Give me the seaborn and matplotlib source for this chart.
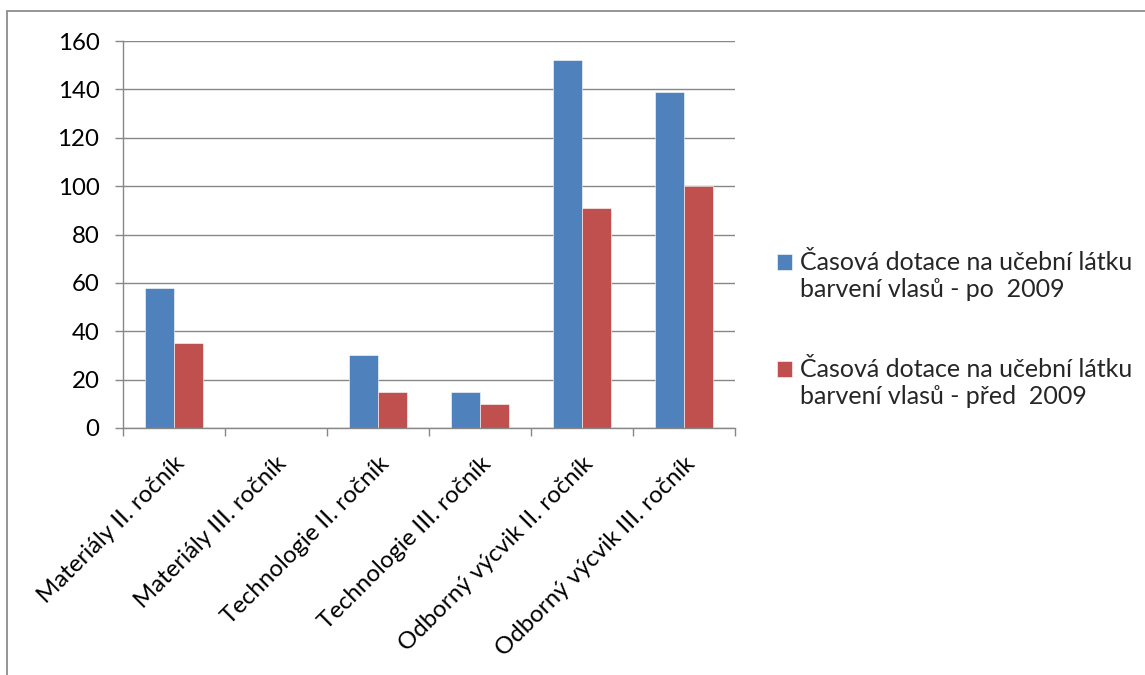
import matplotlib
matplotlib.use("Agg")
import matplotlib.pyplot as plt
import seaborn as sns
import pandas as pd
from matplotlib.patches import Rectangle
from matplotlib.legend_handler import HandlerPatch
from matplotlib.ticker import FixedLocator, MultipleLocator

categories = [
    "Materiály II. ročník",
    "Materiály III. ročník",
    "Technologie II. ročník",
    "Technologie III. ročník",
    "Odborný výcvik II. ročník",
    "Odborný výcvik III. ročník",
]
series_names = [
    "Časová dotace na učební látku\nbarvení vlasů - po  2009",
    "Časová dotace na učební látku\nbarvení vlasů - před  2009",
]
values_po = [58, 0, 30, 15, 152, 139]
values_pred = [35, 0, 15, 10, 91, 100]
colors = ["#4F81BD", "#C0504D"]

df = pd.DataFrame({
    "kategorie": categories * 2,
    "serie": [series_names[0]] * len(categories) + [series_names[1]] * len(categories),
    "hodnota": values_po + values_pred,
})

sns.set_theme(style="white")
plt.rcParams["font.family"] = ["Lato", "DejaVu Sans"]

TICK_FS = 17.3
LEG_FS = 18

W, H = 1145, 675
fig = plt.figure(figsize=(W / 100, H / 100), dpi=100)
ax = fig.add_axes([123 / W, 1 - 428 / H, (735 - 123) / W, (428 - 41) / H])

sns.barplot(data=df, x="kategorie", y="hodnota", hue="serie", order=categories,
            hue_order=series_names, palette=colors, width=0.57, saturation=1,
            edgecolor="white", linewidth=0.4, ax=ax, legend=True)

ax.set_xlim(-0.5, len(categories) - 0.5)
ax.set_ylim(0, 160)
ax.yaxis.set_major_locator(MultipleLocator(20))
ax.set_xlabel("")
ax.set_ylabel("")

grid_c = "#878787"
ax.grid(axis="y", color=grid_c, linewidth=1.0)
ax.set_axisbelow(True)
for s in ["top", "right"]:
    ax.spines[s].set_visible(False)
for s in ["left", "bottom"]:
    ax.spines[s].set_color(grid_c)
    ax.spines[s].set_linewidth(1.0)

ax.tick_params(axis="y", which="major", left=True, length=6, width=1.0, color=grid_c,
               pad=11, labelsize=TICK_FS, labelcolor="black")
ax.xaxis.set_minor_locator(FixedLocator([i - 0.5 for i in range(len(categories) + 1)]))
ax.tick_params(axis="x", which="minor", bottom=True, length=6, width=1.0, color=grid_c)
ax.tick_params(axis="x", which="major", bottom=False, length=0, pad=18,
               labelsize=TICK_FS, labelcolor="black")
for lbl in ax.get_xticklabels():
    lbl.set_rotation(45)
    lbl.set_ha("right")
    lbl.set_va("top")
    lbl.set_rotation_mode("anchor")


def top_square(legend, orig_handle, xdescent, ydescent, width, height, fontsize):
    return Rectangle((-xdescent, -ydescent + 0.6 * fontsize), width, height)


handles, labels = ax.get_legend_handles_labels()
ax.get_legend().remove()
fig.legend(handles, labels, loc="upper left", bbox_to_anchor=(777 / W, 1 - 251 / H),
           frameon=False, fontsize=LEG_FS, borderpad=0, borderaxespad=0,
           handlelength=0.6, handleheight=0.6, handletextpad=0.3, labelspacing=2.3,
           handler_map={h: HandlerPatch(patch_func=top_square) for h in handles})

fig.add_artist(Rectangle((7 / W, -0.1), 1.2, 1 - 11 / H + 0.1, transform=fig.transFigure,
                         fill=False, edgecolor="#8c8c8c", linewidth=1.3))

fig.savefig("out.png", dpi=100)
